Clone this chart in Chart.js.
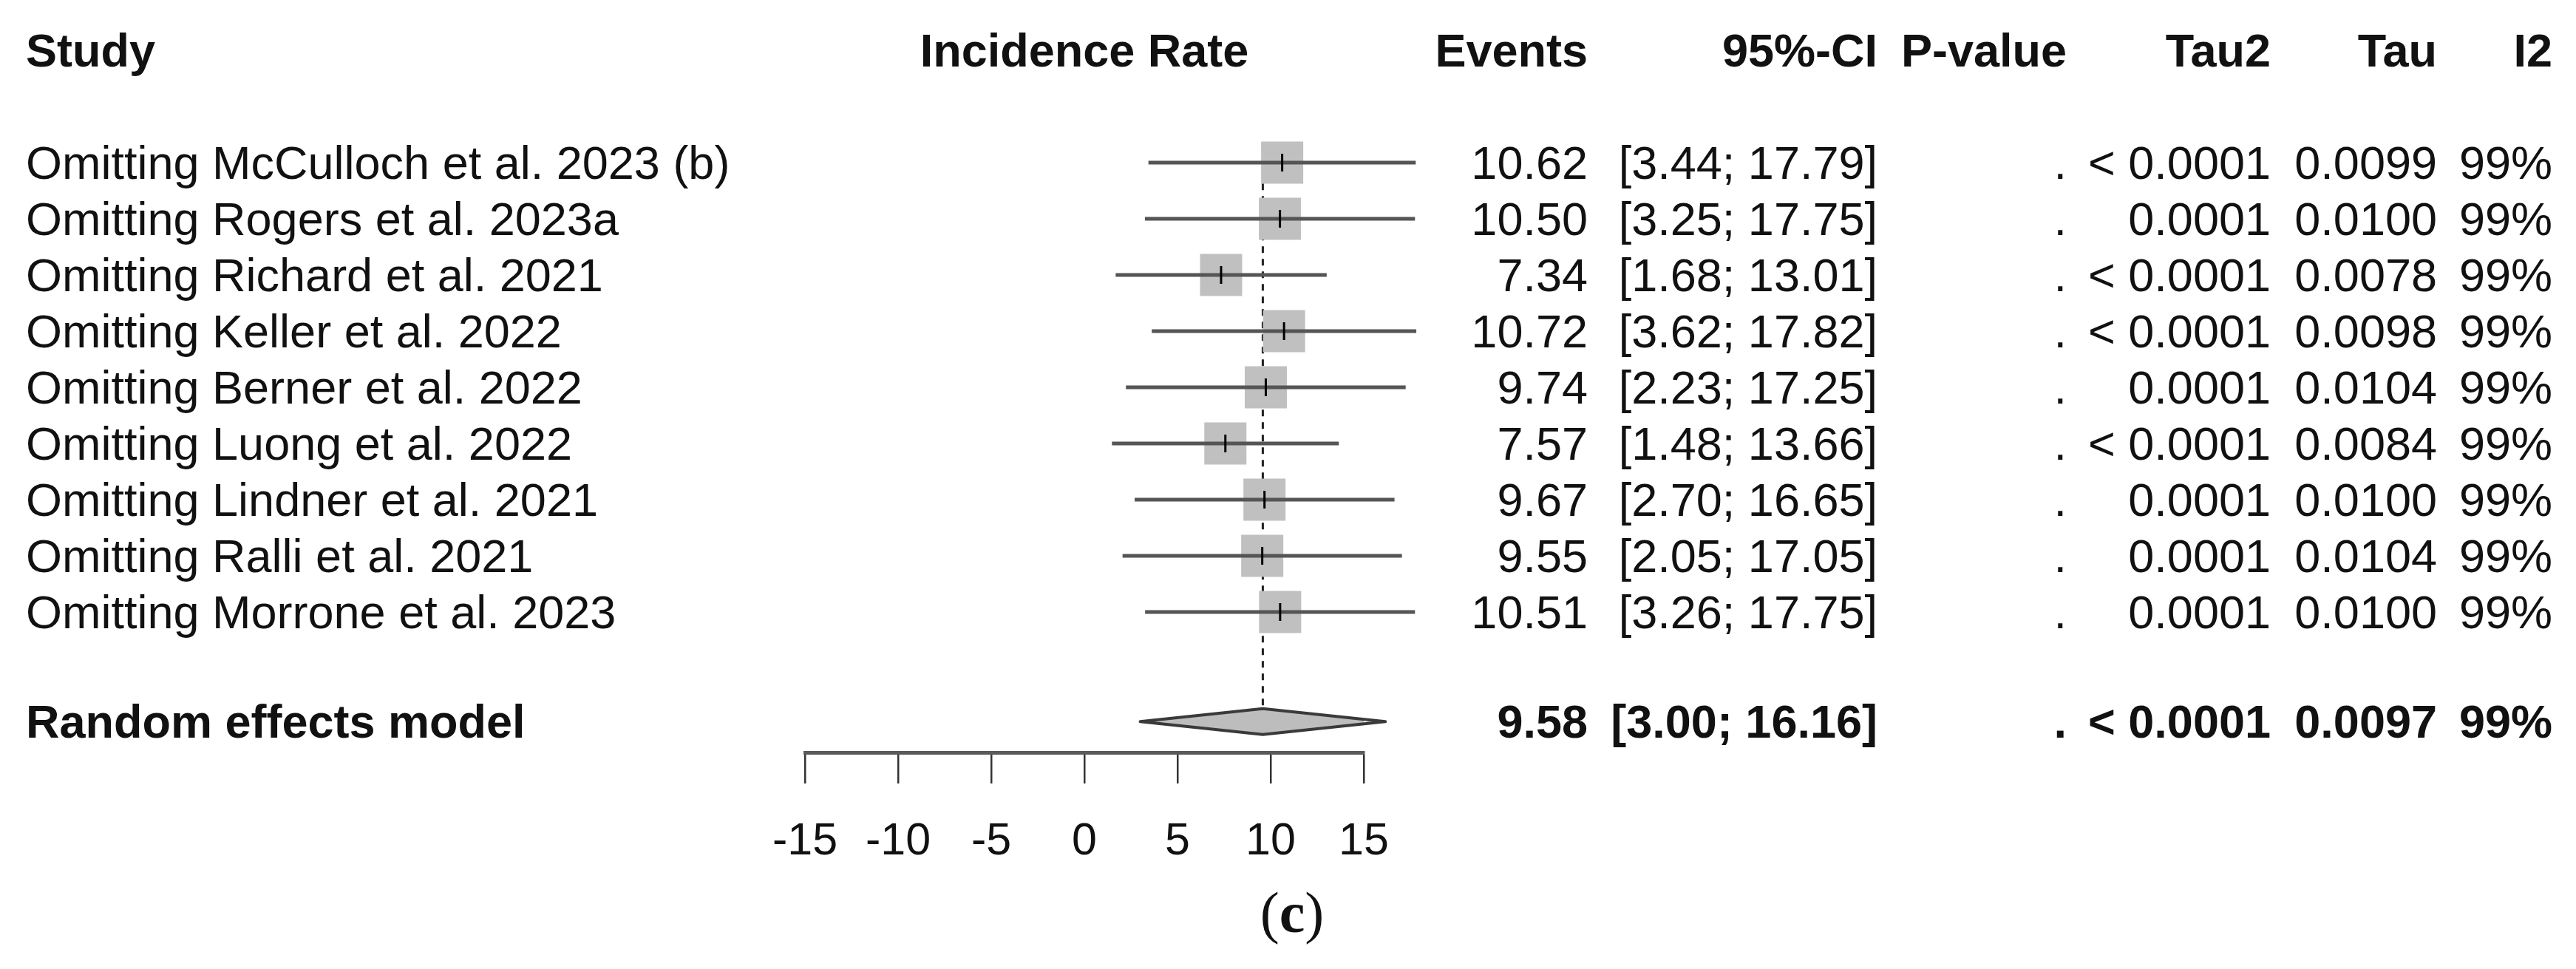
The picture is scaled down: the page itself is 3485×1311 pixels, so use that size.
<!DOCTYPE html>
<html>
<head>
<meta charset="utf-8">
<script src="https://cdn.jsdelivr.net/npm/chart.js@4.4.1/dist/chart.umd.min.js"></script>
<style>
  html, body { margin: 0; padding: 0; background: #ffffff; }
  #wrap { width: 3485px; height: 1311px; position: relative; }
  canvas { display: block; }
</style>
</head>
<body>
<div id="wrap"><canvas id="c" width="3485" height="1311"></canvas></div>
<script>
// ---------------- data ----------------
const studies = [
  "Omitting McCulloch et al. 2023 (b)",
  "Omitting Rogers et al. 2023a",
  "Omitting Richard et al. 2021",
  "Omitting Keller et al. 2022",
  "Omitting Berner et al. 2022",
  "Omitting Luong et al. 2022",
  "Omitting Lindner et al. 2021",
  "Omitting Ralli et al. 2021",
  "Omitting Morrone et al. 2023"
];
const estimates = [10.62, 10.50, 7.34, 10.72, 9.74, 7.57, 9.67, 9.55, 10.51];
const lowerCI   = [3.44, 3.25, 1.68, 3.62, 2.23, 1.48, 2.70, 2.05, 3.26];
const upperCI   = [17.79, 17.75, 13.01, 17.82, 17.25, 13.66, 16.65, 17.05, 17.75];
const pValues   = [".", ".", ".", ".", ".", ".", ".", ".", "."];
const tau2Values = ["< 0.0001", "0.0001", "< 0.0001", "< 0.0001", "0.0001", "< 0.0001", "0.0001", "0.0001", "0.0001"];
const tauValues  = ["0.0099", "0.0100", "0.0078", "0.0098", "0.0104", "0.0084", "0.0100", "0.0104", "0.0100"];
const i2Values   = ["99%", "99%", "99%", "99%", "99%", "99%", "99%", "99%", "99%"];

const summaryLabel = "Random effects model";
const summaryEstimate = 9.58;
const summaryLower = 3.00;
const summaryUpper = 16.16;
const summaryP = ".";
const summaryTau2 = "< 0.0001";
const summaryTau = "0.0097";
const summaryI2 = "99%";

const headers = ["Study", "Incidence Rate", "Events", "95%-CI", "P-value", "Tau2", "Tau", "I2"];
const xTicks = [-15, -10, -5, 0, 5, 10, 15];
const caption = "(c)";

// ---------------- layout / styles ----------------
const W = 3485, H = 1311;
const FONT = "'Liberation Sans', Arial, Helvetica, sans-serif";
const FS = 63;
const summaryRow = studies.length + 0.95;   // after one blank row
const diamondHalf = 0.23;                    // in row units

const col = {
  study: 35, rate: 1467, events: 2148, ci: 2540, p: 2796, tau2: 3072, tau: 3297, i2: 3453
};

// ---------------- datasets ----------------
const datasets = [];

// reference dashed line at pooled estimate
datasets.push({
  label: 'ref',
  data: [{x: summaryEstimate, y: -0.3}, {x: summaryEstimate, y: summaryRow - diamondHalf}],
  showLine: true, borderColor: '#222222', borderWidth: 3, borderDash: [9, 8],
  pointRadius: 0, clip: false, order: 6
});

// weight squares
datasets.push({
  label: 'squares',
  data: estimates.map((v, i) => ({x: v, y: i})),
  showLine: false, pointStyle: 'rect', pointRadius: 40.3,
  backgroundColor: '#c0c0c0', borderWidth: 0, borderColor: 'rgba(0,0,0,0)',
  clip: false, order: 5
});

// confidence interval lines
estimates.forEach((v, i) => {
  datasets.push({
    label: 'ci' + i,
    data: [{x: lowerCI[i], y: i}, {x: upperCI[i], y: i}],
    showLine: true, borderColor: '#555555', borderWidth: 5, pointRadius: 0,
    clip: false, order: 4
  });
});

// point estimate ticks
datasets.push({
  label: 'est',
  data: estimates.map((v, i) => ({x: v, y: i})),
  showLine: false, pointStyle: 'line', rotation: 90, pointRadius: 12,
  borderColor: '#000000', borderWidth: 3, backgroundColor: '#000000',
  clip: false, order: 3
});

// summary diamond
datasets.push({
  label: 'diamond',
  data: [
    {x: summaryLower, y: summaryRow},
    {x: summaryEstimate, y: summaryRow - diamondHalf},
    {x: summaryUpper, y: summaryRow},
    {x: summaryEstimate, y: summaryRow + diamondHalf},
    {x: summaryLower, y: summaryRow}
  ],
  showLine: true, fill: 'shape', backgroundColor: '#bdbdbd',
  borderColor: '#3a3a3a', borderWidth: 4, borderJoinStyle: 'round', borderCapStyle: 'round',
  pointRadius: 0, tension: 0,
  clip: false, order: 1
});

// ---------------- text plugin ----------------
const textPlugin = {
  id: 'forestText',
  afterDraw(chart) {
    const ctx = chart.ctx;
    const ys = chart.scales.y;
    const rowY = k => ys.getPixelForValue(k) + 22;
    ctx.save();
    ctx.fillStyle = '#111111';
    ctx.textBaseline = 'alphabetic';

    const put = (txt, x, y, align, bold) => {
      ctx.font = (bold ? 'bold ' : '') + FS + 'px ' + FONT;
      ctx.textAlign = align;
      ctx.fillText(txt, x, y);
    };

    // header
    const hy = rowY(-2);
    put(headers[0], col.study, hy, 'left', true);
    put(headers[1], col.rate, hy, 'center', true);
    put(headers[2], col.events, hy, 'right', true);
    put(headers[3], col.ci, hy, 'right', true);
    put(headers[4], col.p, hy, 'right', true);
    put(headers[5], col.tau2, hy, 'right', true);
    put(headers[6], col.tau, hy, 'right', true);
    put(headers[7], col.i2, hy, 'right', true);

    // study rows
    studies.forEach((s, i) => {
      const y = rowY(i);
      put(s, col.study, y, 'left', false);
      put(estimates[i].toFixed(2), col.events, y, 'right', false);
      put('[' + lowerCI[i].toFixed(2) + '; ' + upperCI[i].toFixed(2) + ']', col.ci, y, 'right', false);
      put(pValues[i], col.p, y, 'right', false);
      put(tau2Values[i], col.tau2, y, 'right', false);
      put(tauValues[i], col.tau, y, 'right', false);
      put(i2Values[i], col.i2, y, 'right', false);
    });

    // summary row
    const sy = rowY(summaryRow);
    put(summaryLabel, col.study, sy, 'left', true);
    put(summaryEstimate.toFixed(2), col.events, sy, 'right', true);
    put('[' + summaryLower.toFixed(2) + '; ' + summaryUpper.toFixed(2) + ']', col.ci, sy, 'right', true);
    put(summaryP, col.p, sy, 'right', true);
    put(summaryTau2, col.tau2, sy, 'right', true);
    put(summaryTau, col.tau, sy, 'right', true);
    put(summaryI2, col.i2, sy, 'right', true);

    // caption "(c)"
    const cx = 1748, cy = 1261;
    const serif = "'Liberation Serif', 'Times New Roman', serif";
    ctx.textAlign = 'left';
    ctx.font = '78px ' + serif;
    const wOpen = ctx.measureText('(').width;
    const wClose = ctx.measureText(')').width;
    ctx.font = 'bold 78px ' + serif;
    const wC = ctx.measureText('c').width;
    let x0 = cx - (wOpen + wC + wClose) / 2;
    ctx.font = '78px ' + serif;
    ctx.fillText(caption[0], x0, cy);
    ctx.font = 'bold 78px ' + serif;
    ctx.fillText(caption[1], x0 + wOpen, cy);
    ctx.font = '78px ' + serif;
    ctx.fillText(caption[2], x0 + wOpen + wC, cy);
    ctx.restore();
  }
};

// ---------------- chart ----------------
const areaTop = 0, areaBottom = 1018;
const rowPx = 76, row0 = 220;
const yMin = (areaTop - row0) / rowPx;
const yMax = (areaBottom - row0) / rowPx;

new Chart(document.getElementById('c'), {
  type: 'scatter',
  data: { datasets },
  options: {
    responsive: false,
    devicePixelRatio: 1,
    animation: false,
    events: [],
    layout: { autoPadding: false, padding: { left: 1089, right: 1640, top: areaTop, bottom: 0 } },
    plugins: { legend: { display: false }, tooltip: { enabled: false }, title: { display: false } },
    scales: {
      x: {
        type: 'linear', position: 'bottom', min: -15, max: 15,
        afterBuildTicks: s => { s.ticks = xTicks.map(v => ({value: v})); },
        afterFit: s => { s.height = H - areaBottom; },
        ticks: {
          font: { family: FONT, size: 61 }, color: '#111111', padding: 43,
          maxRotation: 0, autoSkip: false,
          callback: v => String(v)
        },
        grid: {
          drawOnChartArea: false, drawTicks: true, tickLength: 42,
          tickColor: '#333333', tickWidth: 2.5, color: '#333333', lineWidth: 2.5
        },
        border: { display: true, color: '#5a5a5a', width: 5 }
      },
      y: {
        type: 'linear', display: false, reverse: true, min: yMin, max: yMax
      }
    }
  },
  plugins: [textPlugin]
});
</script>
</body>
</html>
